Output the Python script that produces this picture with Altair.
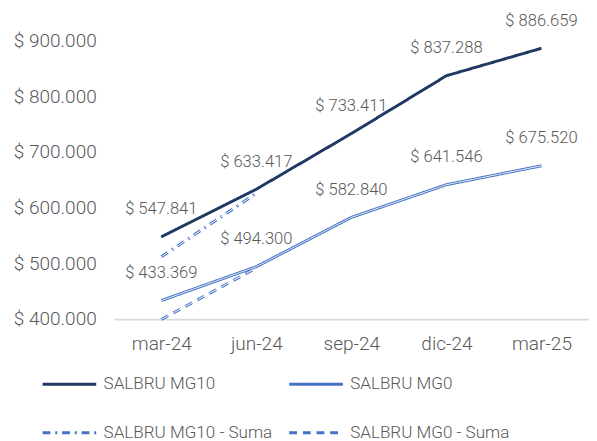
import altair as alt
import pandas as pd

categories = ["mar-24", "jun-24", "sep-24", "dic-24", "mar-25"]
mg10 = [547841, 633417, 733411, 837288, 886659]
mg0 = [433369, 494300, 582840, 641546, 675520]
mg10_suma = [512000, 626000]
mg0_suma = [399500, 492000]
series = ["SALBRU MG10", "SALBRU MG10 - Suma", "SALBRU MG0", "SALBRU MG0 - Suma"]
y_ticks = [400000, 500000, 600000, 700000, 800000, 900000]

rows = []
for s, vals in zip(series, [mg10, mg10_suma, mg0, mg0_suma]):
    for c, v in zip(categories, vals):
        rows.append({"cat": c, "value": v, "series": s,
                     "label": "$ " + f"{v:,}".replace(",", ".")})
df = pd.DataFrame(rows)

font = "Roboto"
grey = "#595959"
colors = ["#203864", "#4472C4", "#4472C4", "#4472C4"]
dashes = [[1, 0], [8, 5, 2, 5], [1, 0], [8, 6]]
widths = [3, 3, 3.5, 3.5]

x = alt.X("cat:N", sort=categories,
          scale=alt.Scale(type="point", padding=0.5),
          axis=alt.Axis(title=None, labelAngle=0, ticks=False, domainColor="#D9D9D9",
                        domainWidth=2, labelPadding=16, labelFontSize=19.5,
                        labelColor=grey, labelFont=font, labelFontWeight=300))
y = alt.Y("value:Q", scale=alt.Scale(domain=[400000, 900000], nice=False, zero=False),
          axis=alt.Axis(title=None, values=y_ticks, grid=False, domain=False, ticks=False,
                        labelPadding=18, labelFontSize=19.5, labelColor=grey, labelFont=font,
                        labelFontWeight=300,
                        labelExpr='"$ " + replace(format(datum.value, ",.0f"), ",", ".")'))

base = alt.Chart(df)

outer = base.mark_line().encode(
    x=x, y=y,
    color=alt.Color("series:N", sort=series,
                    scale=alt.Scale(domain=series, range=colors),
                    legend=alt.Legend(title=None, orient="none", legendX=-74.5, legendY=323,
                                      columns=2, symbolType="stroke", symbolSize=3025,
                                      labelFontSize=17.5, labelFont=font, labelFontWeight=300,
                                      labelColor=grey, labelOffset=6, columnPadding=10,
                                      rowPadding=12, padding=0, labelLimit=300)),
    strokeDash=alt.StrokeDash("series:N", sort=series,
                              scale=alt.Scale(domain=series, range=dashes)),
    strokeWidth=alt.StrokeWidth("series:N", sort=series,
                                scale=alt.Scale(domain=series, range=widths)),
)

inners = []
for s, d in zip(series, dashes):
    if s == series[0]:
        continue
    inners.append(
        base.transform_filter(alt.datum.series == s)
        .mark_line(color="white", strokeWidth=1, strokeDash=d)
        .encode(x=x, y=y)
    )

texts = base.transform_filter(
    (alt.datum.series == "SALBRU MG10") | (alt.datum.series == "SALBRU MG0")
).mark_text(dy=-28, fontSize=17, color=grey, font=font, fontWeight=300,
            baseline="middle", align="center").encode(x=x, y=y, text="label:N")

chart = alt.layer(outer, *inners, texts).properties(
    width=487.5, height=285.5,
    autosize=alt.AutoSizeParams(type="none"),
    padding={"left": 108.5, "top": 28, "right": 0, "bottom": 126},
).configure_view(stroke=None)

chart.save("out.html", embed_options={"renderer": "svg", "actions": False})
